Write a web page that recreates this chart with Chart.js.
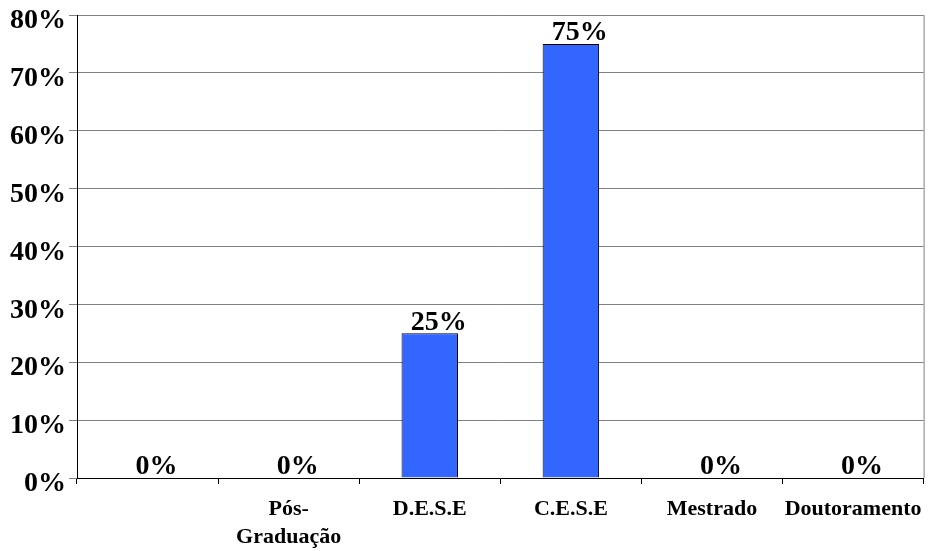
<!DOCTYPE html>
<html>
<head>
<meta charset="utf-8">
<script src="https://cdn.jsdelivr.net/npm/chart.js@4"></script>
<style>
  html, body { margin: 0; padding: 0; background: #fff; }
  #wrap { width: 934px; height: 551px; }
</style>
</head>
<body>
<div id="wrap"><canvas id="chart"></canvas></div>
<script>
const categories = ["", ["Pós-", "Graduação"], "D.E.S.E", "C.E.S.E", "Mestrado", "Doutoramento"];
const values = [0, 0, 25, 75, 0, 0];
const yTicks = [0, 10, 20, 30, 40, 50, 60, 70, 80];

const serif = "'Liberation Serif', 'Times New Roman', serif";

// value labels sitting on top of each bar, plus the right-hand frame line
const barLabels = {
  id: "barLabels",
  afterDatasetsDraw(chart) {
    const ctx = chart.ctx;
    const area = chart.chartArea;
    ctx.save();
    ctx.strokeStyle = "#808080";
    ctx.lineWidth = 1;
    ctx.beginPath();
    ctx.moveTo(area.right + 0.5, area.top);
    ctx.lineTo(area.right + 0.5, area.bottom);
    ctx.stroke();

    ctx.font = "bold 28px " + serif;
    ctx.fillStyle = "#000";
    ctx.textAlign = "center";
    ctx.textBaseline = "bottom";
    const meta = chart.getDatasetMeta(0);
    meta.data.forEach((bar, i) => {
      ctx.fillText(values[i] + "%", bar.x + 9, bar.y + 3);
    });
    ctx.restore();
  },
};

new Chart(document.getElementById("chart"), {
  type: "bar",
  data: {
    labels: categories,
    datasets: [
      {
        data: values,
        backgroundColor: "#3366FF",
        borderColor: "#000",
        borderWidth: 1,
        categoryPercentage: 1,
        barPercentage: 0.4,
      },
    ],
  },
  options: {
    responsive: true,
    maintainAspectRatio: false,
    animation: false,
    layout: {
      padding: { top: 15, right: 6, left: 0, bottom: 0 },
    },
    plugins: {
      legend: { display: false },
      tooltip: { enabled: false },
    },
    scales: {
      x: {
        grid: {
          drawOnChartArea: false,
          drawTicks: true,
          tickLength: 6,
          color: "#000",
        },
        border: { color: "#000", width: 1 },
        ticks: {
          color: "#000",
          padding: 12,
          maxRotation: 0,
          autoSkip: false,
          font: { family: serif, size: 22, weight: "bold", lineHeight: 1.25 },
        },
        afterFit(scale) {
          scale.height = 73;
        },
      },
      y: {
        min: 0,
        max: 80,
        afterBuildTicks(scale) {
          scale.ticks = yTicks.map((v) => ({ value: v }));
        },
        grid: {
          color: "#808080",
          tickLength: 8,
        },
        border: { color: "#000", width: 1 },
        ticks: {
          color: "#000",
          padding: 3,
          labelOffset: 6,
          callback: (v) => v + "%",
          font: { family: serif, size: 28, weight: "bold", lineHeight: 0.8 },
        },
        afterFit(scale) {
          scale.width = 77;
        },
      },
    },
  },
  plugins: [barLabels],
});
</script>
</body>
</html>
